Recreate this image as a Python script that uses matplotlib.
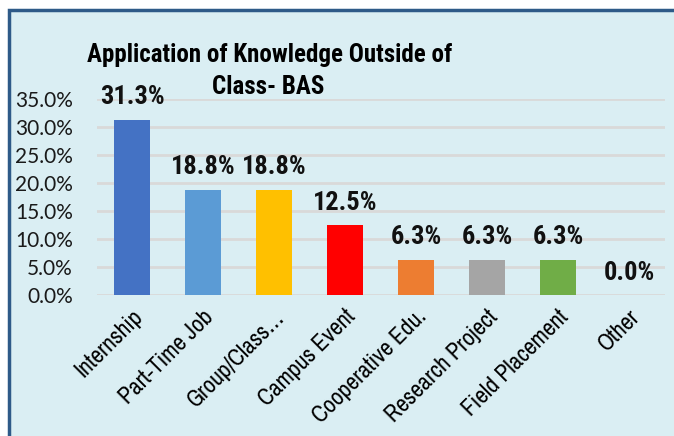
import matplotlib
matplotlib.use("Agg")
import matplotlib.pyplot as plt
from matplotlib import font_manager as fm
from matplotlib.patches import Rectangle
from matplotlib.ticker import FuncFormatter

categories = ["Internship", "Part-Time Job", "Group/Class…", "Campus Event",
              "Cooperative Edu.", "Research Project", "Field Placement", "Other"]
values = [0.313, 0.188, 0.188, 0.125, 0.063, 0.063, 0.063, 0.0]
colors = ["#4472C4", "#5B9BD5", "#FFC000", "#FF0000", "#ED7D31", "#A5A5A5", "#70AD47", "#264478"]
yticks = [0.0, 0.05, 0.10, 0.15, 0.20, 0.25, 0.30, 0.35]
title_lines = ["Application of Knowledge Outside of", "Class- BAS"]


def _weight(w):
    if isinstance(w, str):
        return 700 if "bold" in w.lower() else 400
    return int(w)


def pick(names, bold):
    for n in names:
        for f in fm.fontManager.ttflist:
            if f.name == n and ((_weight(f.weight) >= 600) == bold):
                return n
    return "DejaVu Sans"


BOLD_NARROW = pick(["Liberation Sans Narrow", "Archivo Narrow", "Roboto Condensed",
                    "Asap Condensed", "Barlow Semi Condensed"], True)
REG_NARROW = pick(["Liberation Sans Narrow", "Archivo Narrow", "Roboto Condensed",
                   "Asap Condensed", "Barlow Semi Condensed"], False)

W, H = 674, 436
fig = plt.figure(figsize=(W / 100, H / 100), dpi=100)
fig.patch.set_facecolor("white")

# chart frame
frame = Rectangle((9 / W, -0.05), 1.2, 1 - 10 / H + 0.05, transform=fig.transFigure,
                  facecolor="#DAEEF3", edgecolor="#2E5A88", linewidth=2.5, zorder=-10)
fig.patches.append(frame)

ax = fig.add_axes([96.5 / W, 1 - 295 / H, (664.5 - 96.5) / W, (295 - 99) / H])
ax.set_zorder(2)
ax.set_facecolor("none")
x = list(range(len(categories)))
ax.bar(x, values, width=0.5, color=colors, zorder=3)
ax.set_xlim(-0.5, len(categories) - 0.5)
ax.set_ylim(0, 0.35)
ax.set_yticks(yticks)
ax.yaxis.set_major_formatter(FuncFormatter(lambda v, p: f"{v * 100:.1f}%"))
ax.grid(axis="y", color="#D9D9D9", linewidth=2, zorder=0)
ax.set_axisbelow(True)
for s in ax.spines.values():
    s.set_visible(False)
ax.tick_params(axis="both", length=0)
ax.tick_params(axis="y", labelsize=15, pad=17, labelcolor="#1a1a1a")
for lab in ax.get_yticklabels():
    lab.set_fontfamily("Lato")

ax.set_xticks(x)
ax.set_xticklabels(categories, rotation=45, ha="right", rotation_mode="anchor",
                   fontsize=17, family=REG_NARROW, color="black")
ax.tick_params(axis="x", pad=8)

for xi, v in zip(x, values):
    ax.annotate(f"{v * 100:.1f}%", (xi, v), xytext=(0, 11), textcoords="offset points",
                ha="center", va="baseline", fontsize=19, fontweight="bold",
                family=BOLD_NARROW, color="#111111", zorder=5, annotation_clip=False)

fig.text(270 / W, 1 - 62 / H, title_lines[0], ha="center", va="baseline", fontsize=18,
         fontweight="bold", family=BOLD_NARROW, color="black", zorder=5)
fig.text(268 / W, 1 - 94 / H, title_lines[1], ha="center", va="baseline", fontsize=18,
         fontweight="bold", family=BOLD_NARROW, color="black", zorder=5)

fig.savefig("out.png", dpi=100)
